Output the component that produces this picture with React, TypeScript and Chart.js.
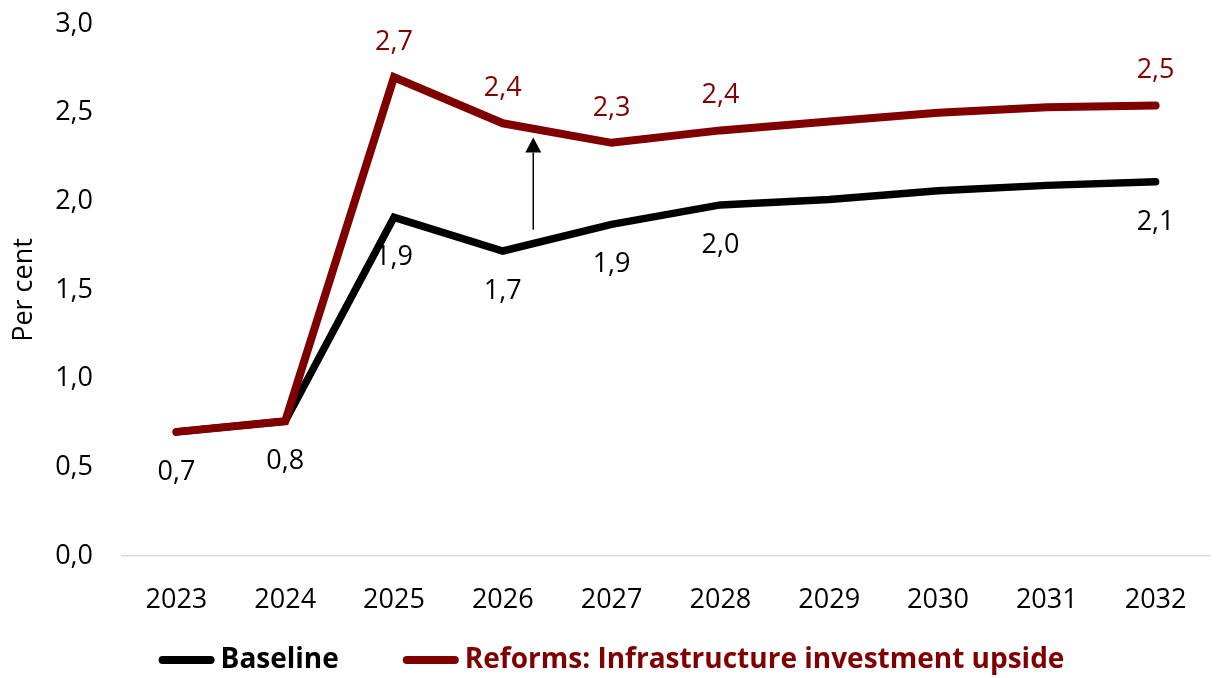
import React, { useEffect, useRef } from 'react';
import { Chart, registerables } from 'chart.js';

Chart.register(...registerables);

// ---- Data ----
const years = ['2023', '2024', '2025', '2026', '2027', '2028', '2029', '2030', '2031', '2032'];
const baselineValues = [0.70, 0.76, 1.91, 1.72, 1.87, 1.98, 2.01, 2.06, 2.09, 2.11];
const reformsValues = [0.70, 0.76, 2.70, 2.44, 2.33, 2.40, 2.45, 2.50, 2.53, 2.54];
const baselineLabelShown = [true, true, true, true, true, true, false, false, false, true];
const reformsLabelShown = [false, false, true, true, true, true, false, false, false, true];
const seriesNames = ['Baseline', 'Reforms: Infrastructure investment upside'];
const yMin = 0;
const yMax = 3;
const yStep = 0.5;
// arrow annotation in data units (category index, value)
const arrowAt = 3.28;
const arrowFrom = 1.84;
const arrowTo = 2.36;

const BLACK = '#000000';
const RED = '#800000';
const FONT = '"Open Sans", "DejaVu Sans", sans-serif';

const fmt = (v: number) => v.toFixed(1).replace('.', ',');

const valueLabelsPlugin = {
  id: 'valueLabels',
  afterDatasetsDraw(chart: any) {
    const ctx = chart.ctx;
    ctx.save();
    ctx.font = `27px ${FONT}`;
    ctx.textAlign = 'center';
    ctx.textBaseline = 'middle';
    chart.data.datasets.forEach((ds: any, di: number) => {
      const meta = chart.getDatasetMeta(di);
      const shown = di === 0 ? baselineLabelShown : reformsLabelShown;
      const dy = di === 0 ? 40 : -35;
      ctx.fillStyle = ds.borderColor;
      meta.data.forEach((pt: any, i: number) => {
        if (!shown[i]) return;
        ctx.fillText(fmt(ds.data[i]), pt.x, pt.y + dy);
      });
    });
    ctx.restore();
  },
};

const arrowPlugin = {
  id: 'arrow',
  afterDatasetsDraw(chart: any) {
    const ctx = chart.ctx;
    const xs = chart.scales.x;
    const ys = chart.scales.y;
    const x = xs.getPixelForValue(arrowAt);
    const y0 = ys.getPixelForValue(arrowFrom);
    const y1 = ys.getPixelForValue(arrowTo);
    const headH = 15;
    const headW = 8;
    ctx.save();
    ctx.strokeStyle = '#000';
    ctx.fillStyle = '#000';
    ctx.lineWidth = 1.5;
    ctx.beginPath();
    ctx.moveTo(x, y0);
    ctx.lineTo(x, y1 + headH);
    ctx.stroke();
    ctx.beginPath();
    ctx.moveTo(x, y1);
    ctx.lineTo(x - headW, y1 + headH);
    ctx.lineTo(x + headW, y1 + headH);
    ctx.closePath();
    ctx.fill();
    ctx.restore();
  },
};

const legendPlugin = {
  id: 'customLegend',
  afterDraw(chart: any) {
    const ctx = chart.ctx;
    ctx.save();
    ctx.font = `bold 28px ${FONT}`;
    ctx.textBaseline = 'middle';
    ctx.textAlign = 'left';
    const sampleW = 48;
    const lw = 8;
    const gapText = 6;
    const itemGap = 64;
    const items = chart.data.datasets.map((ds: any) => ({ text: ds.label, color: ds.borderColor }));
    const widths = items.map((it: any) => lw + sampleW + gapText + ctx.measureText(it.text).width);
    const total = widths.reduce((a: number, b: number) => a + b, 0) + itemGap * (items.length - 1);
    let x = chart.width / 2 + 3 - total / 2;
    const y = chart.height - 18;
    items.forEach((it: any, i: number) => {
      ctx.strokeStyle = it.color;
      ctx.lineWidth = lw;
      ctx.lineCap = 'round';
      ctx.beginPath();
      ctx.moveTo(x + lw / 2, y);
      ctx.lineTo(x + lw / 2 + sampleW, y);
      ctx.stroke();
      ctx.fillStyle = it.color;
      ctx.fillText(it.text, x + lw + sampleW + gapText, y);
      x += widths[i] + itemGap;
    });
    ctx.restore();
  },
};

export default function App() {
  const ref = useRef<HTMLCanvasElement | null>(null);

  useEffect(() => {
    document.body.style.margin = '0';
    const canvas = ref.current;
    if (!canvas) return;
    const chart = new Chart(canvas, {
      type: 'line',
      data: {
        labels: years,
        datasets: [
          {
            label: seriesNames[0],
            data: baselineValues,
            borderColor: BLACK,
            backgroundColor: BLACK,
            borderWidth: 7.5,
            borderCapStyle: 'round',
            borderJoinStyle: 'miter',
            pointRadius: 0,
            tension: 0,
            order: 1,
          },
          {
            label: seriesNames[1],
            data: reformsValues,
            borderColor: RED,
            backgroundColor: RED,
            borderWidth: 8,
            borderCapStyle: 'round',
            borderJoinStyle: 'miter',
            pointRadius: 0,
            tension: 0,
            order: 0,
          },
        ],
      },
      options: {
        responsive: false,
        animation: false,
        layout: { padding: { top: 24, right: 7, bottom: 0, left: 0 } },
        plugins: {
          legend: { display: false },
          title: { display: false },
          tooltip: { enabled: false },
        },
        scales: {
          x: {
            type: 'category',
            offset: true,
            grid: { display: false, drawTicks: false },
            border: { display: true, color: '#d9d9d9', width: 1.5 },
            ticks: {
              color: '#000',
              font: { family: FONT, size: 27 },
              padding: 28,
              maxRotation: 0,
              autoSkip: false,
            },
            afterFit: (scale: any) => {
              scale.height = 122;
              scale.paddingLeft = 0;
              scale.paddingRight = 0;
              scale.paddingTop = 0;
              scale.paddingBottom = 0;
            },
          },
          y: {
            min: yMin,
            max: yMax,
            grid: { display: false, drawTicks: false },
            border: { display: false },
            ticks: {
              stepSize: yStep,
              color: '#000',
              font: { family: FONT, size: 27 },
              padding: 29,
              callback: (v: any) => fmt(Number(v)),
            },
            title: {
              display: true,
              text: 'Per cent',
              color: '#000',
              font: { family: FONT, size: 27 },
              padding: { top: 8, bottom: 0 },
            },
            afterFit: (scale: any) => {
              scale.width = 122;
              scale.paddingTop = 0;
              scale.paddingBottom = 0;
              scale.paddingLeft = 0;
              scale.paddingRight = 0;
            },
          },
        },
      },
      plugins: [valueLabelsPlugin, arrowPlugin, legendPlugin],
    });
    return () => chart.destroy();
  }, []);

  return (
    <div style={{ width: 1217, height: 678, background: '#fff' }}>
      <canvas ref={ref} width={1217} height={678} style={{ display: 'block' }} />
    </div>
  );
}
